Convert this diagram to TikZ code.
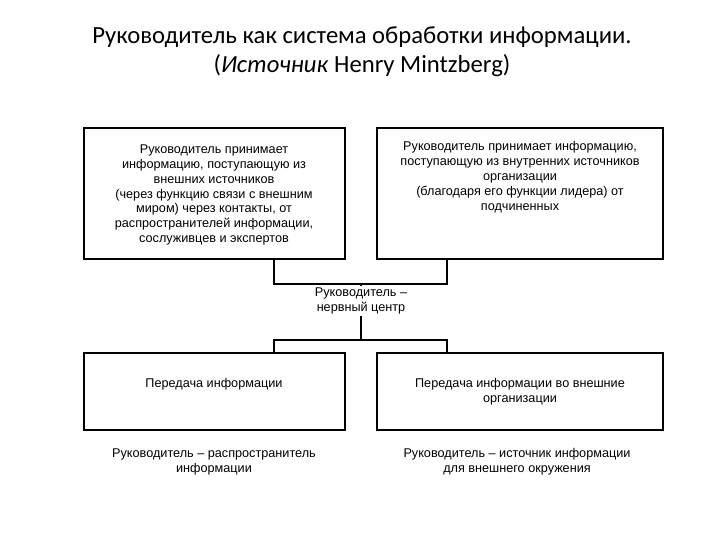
\documentclass[tikz,border=0pt]{standalone}
\usepackage{fontspec}
\setmainfont{Liberation Sans}
\newfontfamily\titlefont{Carlito}
\begin{document}
\begin{tikzpicture}[x=0.75pt,y=-0.75pt,
  box/.style={draw,line width=0.8pt,inner sep=0pt},
  txt/.style={font=\fontsize{9.5}{11.2}\selectfont,align=center},
  ln/.style={line width=0.8pt}]
\useasboundingbox (0,0) rectangle (720,540);
\node[font=\titlefont\fontsize{18.5}{22}\selectfont,align=center] (title) at (362,52)
  {Руководитель как система обработки информации.\\(\textit{Источник} Henry Mintzberg)};
\draw[box] (84,128) rectangle (345,259); \coordinate (lb) at (274,259);
\draw[box] (377,128) rectangle (663,259); \coordinate (rb) at (447,259);
\node[txt] (t1) at (214,195) {Руководитель принимает\\информацию, поступающую из\\внешних источников\\(через функцию связи с внешним\\миром) через контакты, от\\распространителей информации,\\сослуживцев и экспертов};
\node[txt] (t2) at (520,177) {Руководитель принимает информацию,\\поступающую из внутренних источников\\организации\\(благодаря его функции лидера) от\\подчиненных};
\node[txt,fill=white,inner sep=1pt] (c) at (361,301) {Руководитель –\\нервный центр};
\draw[ln] (lb) -- (274,284) -- (447,284) -- (rb);
\draw[ln] (361,284) -- (c.north);
\draw[ln] (c.south) -- (361,340);
\draw[box] (84,353) rectangle (345,430);
\draw[box] (377,353) rectangle (663,430);
\draw[ln] (274,353) -- (274,340) -- (447,340) -- (447,353);
\node[txt] (b1) at (214,384) {Передача информации};
\node[txt] (b2) at (520,392) {Передача информации во внешние\\организации};
\node[txt] (d1) at (214,462) {Руководитель – распространитель\\информации};
\node[txt] (d2) at (517,462) {Руководитель – источник информации\\для внешнего окружения};
\end{tikzpicture}
\end{document}
